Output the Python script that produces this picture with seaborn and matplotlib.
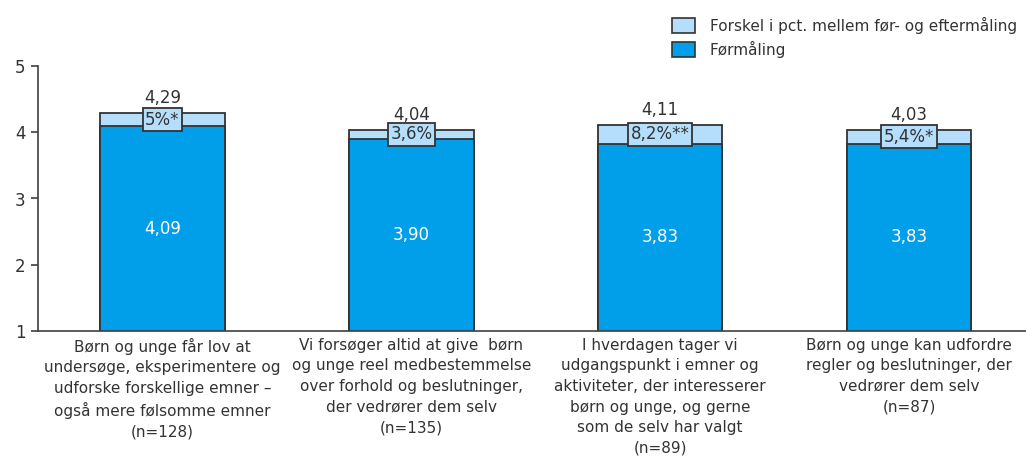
import matplotlib
matplotlib.use("Agg")
import matplotlib.pyplot as plt
from matplotlib.patches import Patch
import seaborn as sns
import pandas as pd

# Data
categories = [
    "Børn og unge får lov at\nundersøge, eksperimentere og\nudforske forskellige emner –\nogså mere følsomme emner\n(n=128)",
    "Vi forsøger altid at give  børn\nog unge reel medbestemmelse\nover forhold og beslutninger,\nder vedrører dem selv\n(n=135)",
    "I hverdagen tager vi\nudgangspunkt i emner og\naktiviteter, der interesserer\nbørn og unge, og gerne\nsom de selv har valgt\n(n=89)",
    "Børn og unge kan udfordre\nregler og beslutninger, der\nvedrører dem selv\n(n=87)",
]
foer = [4.09, 3.90, 3.83, 3.83]
efter = [4.29, 4.04, 4.11, 4.03]
forskel_labels = ["5%*", "3,6%", "8,2%**", "5,4%*"]
y_ticks = [1, 2, 3, 4, 5]
legend_labels = ["Forskel i pct. mellem før- og eftermåling", "Førmåling"]

dark_blue = "#019EEA"
light_blue = "#B4DEFB"
edge = "#333333"
text_col = "#333333"

sns.set_theme(style="white")
plt.rcParams["font.family"] = ["DejaVu Sans"]

df = pd.DataFrame({"kategori": categories, "foer": foer, "efter": efter})

fig = plt.figure(figsize=(10.26, 4.61), dpi=100)
ax = fig.add_axes([38 / 1026, 1 - 331 / 461, 1 - 38 / 1026, (331 - 66) / 461])

sns.barplot(data=df, x="kategori", y="efter", color=light_blue, width=0.5,
            edgecolor=edge, linewidth=1.3, saturation=1, ax=ax)
sns.barplot(data=df, x="kategori", y="foer", color=dark_blue, width=0.5,
            edgecolor=edge, linewidth=1.3, saturation=1, ax=ax)

ax.set_ylim(1, 5)
ax.set_xlim(-0.5, 3.47)
ax.set_yticks(y_ticks)
ax.set_yticklabels([str(t) for t in y_ticks], fontsize=12, color=text_col)
ax.set_xlabel("")
ax.set_ylabel("")
ax.tick_params(axis="x", length=0, pad=5)
ax.tick_params(axis="y", length=5, width=1.2, color="#404040", left=True, pad=4)
for lbl in ax.get_xticklabels():
    lbl.set_fontsize(11)
    lbl.set_color(text_col)
    lbl.set_linespacing(1.46)
    lbl.set_verticalalignment("top")

for side in ["top", "right"]:
    ax.spines[side].set_visible(False)
for side in ["left", "bottom"]:
    ax.spines[side].set_color("#404040")
    ax.spines[side].set_linewidth(1.2)

def fmt(v):
    return f"{v:.2f}".replace(".", ",")

for i, (f, e, lab) in enumerate(zip(foer, efter, forskel_labels)):
    ax.text(i, (1 + f) / 2, fmt(f), ha="center", va="center", color="white", fontsize=12)
    ax.text(i, e + 0.09, fmt(e), ha="center", va="bottom", color=text_col, fontsize=12)
    ax.text(i, (f + e) / 2, lab, ha="center", va="center", color=text_col, fontsize=12,
            bbox=dict(boxstyle="square,pad=0.15", facecolor=light_blue, edgecolor=edge, linewidth=1.3))

handles = [Patch(facecolor=light_blue, edgecolor=edge, linewidth=1.2),
           Patch(facecolor=dark_blue, edgecolor=edge, linewidth=1.2)]
fig.legend(handles, legend_labels, loc="upper left", bbox_to_anchor=(658 / 1026, 1 - 3 / 461),
           frameon=False, fontsize=11, handlelength=1.5, handleheight=1.2,
           handletextpad=1.0, labelspacing=0.45, labelcolor=text_col)

fig.savefig("out.png", dpi=100)
